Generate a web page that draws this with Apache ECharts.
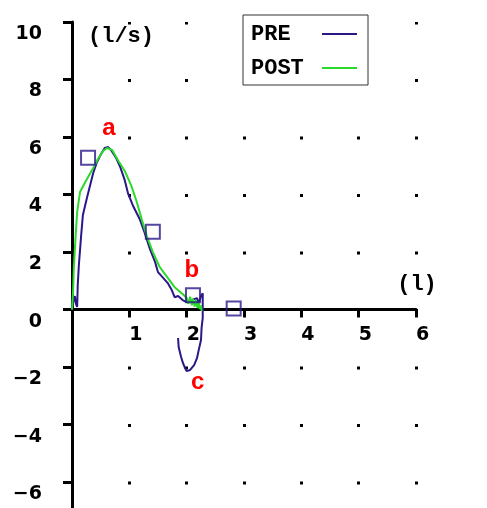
<!DOCTYPE html>
<html><head><meta charset="utf-8">
<script src="https://cdn.jsdelivr.net/npm/echarts@6/dist/echarts.min.js"></script>
<style>html,body{margin:0;padding:0;background:#fff}#c{width:487px;height:508px}</style>
</head><body><div id="c"></div>
<script>
const seriesNames = ['PRE', 'POST'];
const xTicks = [1, 2, 3, 4, 5, 6];
const yTicks = [-6, -4, -2, 0, 2, 4, 6, 8, 10];

const preX = [0, 0.03, 0.05, 0.07, 0.09, 0.10, 0.12, 0.16, 0.19, 0.26, 0.37, 0.43, 0.49, 0.57, 0.63, 0.68, 0.77, 0.84, 0.92, 0.98, 1.06, 1.18, 1.27, 1.36, 1.45, 1.50, 1.59, 1.67, 1.74, 1.79, 1.85, 1.88, 1.93, 2.00, 2.06, 2.09, 2.14, 2.18, 2.21, 2.25, 2.28, 2.28, 2.28, 2.28, 2.26, 2.25, 2.21, 2.18, 2.13, 2.06, 2.00, 1.97, 1.93, 1.90, 1.86, 1.85];
const preY = [0, 0.33, 0.47, 0.19, 0.09, 0.85, 1.55, 2.59, 3.29, 3.88, 4.75, 5.10, 5.35, 5.62, 5.65, 5.55, 5.27, 4.96, 4.50, 4.02, 3.63, 3.15, 2.66, 2.10, 1.65, 1.30, 1.10, 0.92, 0.68, 0.43, 0.47, 0.50, 0.33, 0.26, 0.30, 0.33, 0.37, 0.40, 0.23, 0.47, 0.57, 0.33, -0.02, -0.30, -0.64, -1.06, -1.41, -1.69, -1.93, -2.10, -2.14, -2.03, -1.83, -1.62, -1.30, -0.99];

const postX = [0, 0.02, 0.03, 0.05, 0.07, 0.09, 0.14, 0.23, 0.35, 0.45, 0.54, 0.61, 0.70, 0.80, 0.92, 1.03, 1.13, 1.22, 1.31, 1.41, 1.53, 1.66, 1.79, 1.93, 2.00, 2.03, 2.06, 2.09, 2.11, 2.14, 2.16, 2.19, 2.21, 2.23, 2.25, 2.26];
const postY = [0, 0.68, 1.37, 2.10, 2.77, 3.39, 4.09, 4.43, 4.85, 5.23, 5.51, 5.62, 5.55, 5.20, 4.82, 4.33, 3.74, 3.11, 2.52, 2.00, 1.48, 1.13, 0.78, 0.54, 0.40, 0.20, 0.45, 0.15, 0.38, 0.10, 0.33, 0.05, 0.25, 0.02, 0.15, -0.05];

const squareX = [0.28, 1.41, 2.11, 2.82];
const squareY = [5.28, 2.71, 0.50, 0.04];

const noteText = ['a', 'b', 'c'];
const noteX = [0.645, 2.09, 2.19];
const noteY = [6.30, 1.37, -2.52];

const NAVY = '#2a1888';
const GREEN = '#2bd92b';
const MONO = 'Liberation Mono';
const SANS = 'DejaVu Sans';

const zip = (a, b) => a.map((v, i) => [v, b[i]]);
const chart = echarts.init(document.getElementById('c'), null, { renderer: 'canvas' });
chart.setOption({
  animation: false,
  backgroundColor: '#fff',
  grid: { left: 72, right: 71, top: 22, bottom: 0, containLabel: false, outerBoundsMode: 'none' },
  legend: {
    data: seriesNames, orient: 'vertical', left: 243, top: 15, align: 'right',
    padding: [8, 11, 6, 8], itemGap: 12, itemWidth: 35, itemHeight: 2, icon: 'rect',
    backgroundColor: '#fff', borderColor: '#333', borderWidth: 1, borderRadius: 0,
    selectedMode: false,
    formatter: n => n.padEnd(5, ' '),
    textStyle: { fontFamily: MONO, fontWeight: 'bold', fontSize: 22, lineHeight: 22, color: '#000' }
  },
  xAxis: [{
    type: 'value', min: 0, max: 6, interval: 1,
    name: '(l)', nameLocation: 'end', nameGap: 1, nameMoveOverlap: false,
    nameTextStyle: { fontFamily: MONO, fontWeight: 'bold', fontSize: 22, lineHeight: 50, color: '#000', align: 'center', verticalAlign: 'bottom' },
    axisLine: { show: true, onZero: true, lineStyle: { color: '#000', width: 3 } },
    axisTick: { show: true, inside: false, length: 8, lineStyle: { color: '#000', width: 3 } },
    axisLabel: { show: false },
    splitLine: { show: true, lineStyle: { color: '#000', width: 3, type: [3, 54.515], dashOffset: 0.5 } }
  }, {
    // label-only copy of the volume axis, moved up onto the zero line below
    type: 'value', min: 0, max: 6, interval: 1, position: 'bottom', offset: 0,
    axisLine: { show: false }, axisTick: { show: false }, splitLine: { show: false },
    axisLabel: {
      show: true, hideOverlap: false, showMinLabel: true, showMaxLabel: true,
      margin: 15, fontFamily: SANS, fontWeight: 'bold', fontSize: 19, lineHeight: 20, color: '#000',
      align: 'left', verticalAlign: 'top',
      formatter: v => (xTicks.indexOf(v) >= 0 ? String(v) : '')
    }
  }],
  yAxis: {
    type: 'value', min: -6.9, max: 10,
    name: '(l/s)', nameLocation: 'end', nameGap: -14, nameMoveOverlap: false,
    nameTextStyle: { fontFamily: MONO, fontWeight: 'bold', fontSize: 22, lineHeight: 22, color: '#000', align: 'left', verticalAlign: 'middle', padding: [0, 0, 0, 16] },
    axisLine: { show: true, onZero: false, lineStyle: { color: '#000', width: 3 } },
    axisTick: { show: true, customValues: yTicks, inside: false, length: 9, lineStyle: { color: '#000', width: 3 } },
    axisLabel: {
      customValues: yTicks, margin: 30, fontFamily: SANS, fontWeight: 'bold', fontSize: 19, lineHeight: 24, color: '#000',
      align: 'right', verticalAlign: 'top',
      formatter: v => (v < 0 ? '\u2212' + (-v) : String(v))
    },
    splitLine: { show: false }
  },
  series: [
    { name: 'PRE', type: 'line', data: zip(preX, preY), symbol: 'none', lineStyle: { color: NAVY, width: 2 }, itemStyle: { color: NAVY }, z: 2 },
    { name: 'POST', type: 'line', data: zip(postX, postY), symbol: 'none', lineStyle: { color: GREEN, width: 2 }, itemStyle: { color: GREEN }, z: 3 },
    { type: 'scatter', data: zip(squareX, squareY), symbol: 'rect', symbolSize: 14, silent: true,
      itemStyle: { color: 'rgba(0,0,0,0)', borderColor: NAVY, borderWidth: 2 }, z: 4 },
    { type: 'scatter', data: noteText.map((t, i) => ({ name: t, value: [noteX[i], noteY[i]] })), symbolSize: 1, silent: true,
      itemStyle: { color: '#ff0000', opacity: 0 },
      label: { show: true, position: 'inside', formatter: '{b}', color: '#ff0000', opacity: 1, textBorderWidth: 0, fontFamily: 'Liberation Sans', fontWeight: 'bold', fontSize: 24 }, z: 5 }
  ]
});
// lift the label-only axis onto the flow = 0 line, using the library's own y scale
const gridBottomPx = chart.getHeight();
const zeroPx = chart.convertToPixel({ yAxisIndex: 0 }, 0);
chart.setOption({ xAxis: [{}, { offset: -(gridBottomPx - zeroPx) }] });
</script></body></html>
